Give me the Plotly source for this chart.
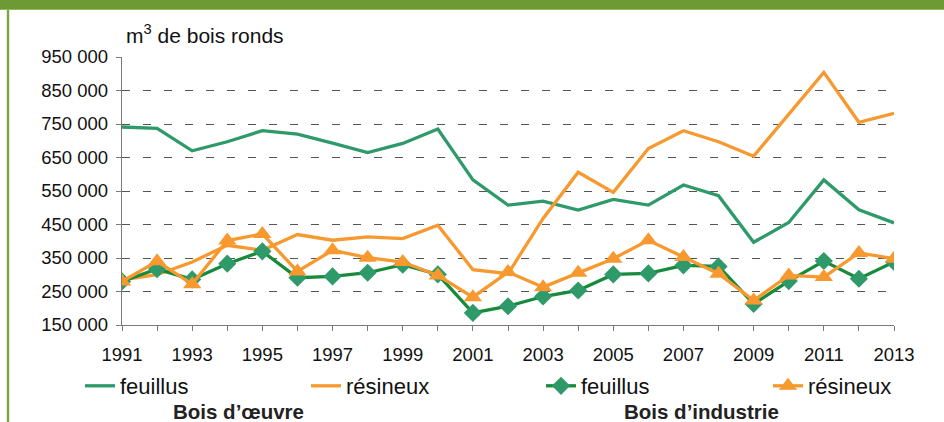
import plotly.graph_objects as go

years = list(range(1991, 2014))
oeuvre_feuillus = [741000, 737000, 670000, 697000, 730000, 720000, 693000, 665000, 692000, 735000,
                   583000, 508000, 520000, 493000, 525000, 508000, 568000, 536000, 397000, 456000,
                   583000, 494000, 455000]
oeuvre_resineux = [285000, 300000, 338000, 388000, 373000, 420000, 403000, 413000, 408000, 448000,
                   315000, 303000, 468000, 606000, 546000, 677000, 730000, 697000, 654000, 780000,
                   904000, 755000, 782000]
industrie_feuillus = [280000, 317000, 286000, 333000, 370000, 291000, 295000, 306000, 330000, 301000,
                      186000, 206000, 235000, 253000, 301000, 304000, 328000, 325000, 213000, 281000,
                      341000, 288000, 338000]
industrie_resineux = [280000, 340000, 272000, 402000, 422000, 310000, 373000, 351000, 338000, 298000,
                      233000, 308000, 263000, 306000, 348000, 403000, 353000, 303000, 223000, 298000,
                      293000, 365000, 348000]

y_ticks = [150000, 250000, 350000, 450000, 550000, 650000, 750000, 850000, 950000]
y_ticktext = ["150 000", "250 000", "350 000", "450 000", "550 000", "650 000", "750 000", "850 000", "950 000"]
x_labeled = [y for y in years if y % 2 == 1]
x_ticktext = [str(y) for y in x_labeled]
x_minor = [y for y in years if y % 2 == 0]

GREEN = "#2f9a69"
DGREEN = "#178a3c"
ORANGE = "#f7992e"
FONT = "Liberation Sans, Arial, sans-serif"

W, H = 944, 422
L, R, T, B = 122, 50, 57, 97
PW, PH = W - L - R, H - T - B


def px_x(x):
    return (x - L) / PW


def px_y(y):
    return (H - B - y) / PH


fig = go.Figure()
fig.add_trace(go.Scatter(x=years, y=oeuvre_feuillus, mode="lines", name="feuillus",
                         line=dict(color=GREEN, width=3.3), legend="legend"))
fig.add_trace(go.Scatter(x=years, y=oeuvre_resineux, mode="lines", name="résineux",
                         line=dict(color=ORANGE, width=3.3), legend="legend2"))
fig.add_trace(go.Scatter(x=years, y=industrie_feuillus, mode="lines+markers", name="feuillus",
                         line=dict(color=DGREEN, width=3.3),
                         marker=dict(symbol="diamond", size=14, color=GREEN), legend="legend3"))
fig.add_trace(go.Scatter(x=years, y=industrie_resineux, mode="lines+markers", name="résineux",
                         line=dict(color=ORANGE, width=3.3),
                         marker=dict(symbol="triangle-up", size=16, color=ORANGE), legend="legend4"))

leg_common = dict(orientation="h", xanchor="left", yanchor="middle", y=px_y(386),
                  font=dict(family=FONT, size=22, color="#111111"), bgcolor="rgba(0,0,0,0)",
                  borderwidth=0, itemwidth=30)
text_starts = [120, 346, 581, 808]

axis_common = dict(showline=True, linecolor="#7a7a7a", linewidth=1.3, zeroline=False,
                   ticks="outside", ticklen=5, tickcolor="#7a7a7a", tickwidth=1.3,
                   tickfont=dict(family=FONT, size=18.5, color="#111111"))

fig.update_layout(
    width=W, height=H,
    margin=dict(l=L, r=R, t=T, b=B),
    paper_bgcolor="white", plot_bgcolor="white",
    font=dict(family=FONT, color="#111111"),
    showlegend=True,
    legend=dict(leg_common, x=px_x(text_starts[0] - 40)),
    legend2=dict(leg_common, x=px_x(text_starts[1] - 40)),
    legend3=dict(leg_common, x=px_x(text_starts[2] - 40)),
    legend4=dict(leg_common, x=px_x(text_starts[3] - 40)),
    xaxis=dict(axis_common, range=[1991, 2013], tickvals=x_labeled, ticktext=x_ticktext,
               showgrid=False, ticklabelstandoff=8,
               minor=dict(tickvals=x_minor, ticks="outside", ticklen=5, tickcolor="#7a7a7a",
                          tickwidth=1.3, showgrid=False)),
    yaxis=dict(axis_common, range=[150000, 950000], tickvals=y_ticks, ticktext=y_ticktext,
               showgrid=True, gridcolor="#555555", gridwidth=1.2, griddash="8px,13px",
               ticklabelstandoff=4),
    annotations=[
        dict(text="m<sup>3</sup> de bois ronds", xref="paper", yref="paper",
             x=px_x(124), y=px_y(34), xanchor="left", yanchor="middle", showarrow=False,
             font=dict(family=FONT, size=21, color="#111111")),
        dict(text="<b>Bois d’œuvre</b>", xref="paper", yref="paper",
             x=px_x(238), y=px_y(411), xanchor="center", yanchor="middle", showarrow=False,
             font=dict(family=FONT, size=20.5, color="#222222")),
        dict(text="<b>Bois d’industrie</b>", xref="paper", yref="paper",
             x=px_x(701), y=px_y(411), xanchor="center", yanchor="middle", showarrow=False,
             font=dict(family=FONT, size=20.5, color="#222222")),
    ],
    shapes=[
        dict(type="rect", xref="paper", yref="paper", x0=px_x(-2), x1=px_x(W + 2),
             y0=px_y(10), y1=px_y(-2), fillcolor="#6e9a35", line=dict(width=0), layer="above"),
        dict(type="line", xref="paper", yref="paper", x0=px_x(-2), x1=px_x(W + 2),
             y0=px_y(9.5), y1=px_y(9.5), line=dict(color="#93bb5a", width=1.2), layer="above"),
        dict(type="line", xref="paper", yref="paper", x0=px_x(8), x1=px_x(8),
             y0=px_y(10), y1=px_y(H + 2), line=dict(color="#78a63b", width=2.4), layer="above"),
    ],
)

fig.write_html("out.html", config={"displayModeBar": False},
               post_script="document.body.style.margin='0';")
